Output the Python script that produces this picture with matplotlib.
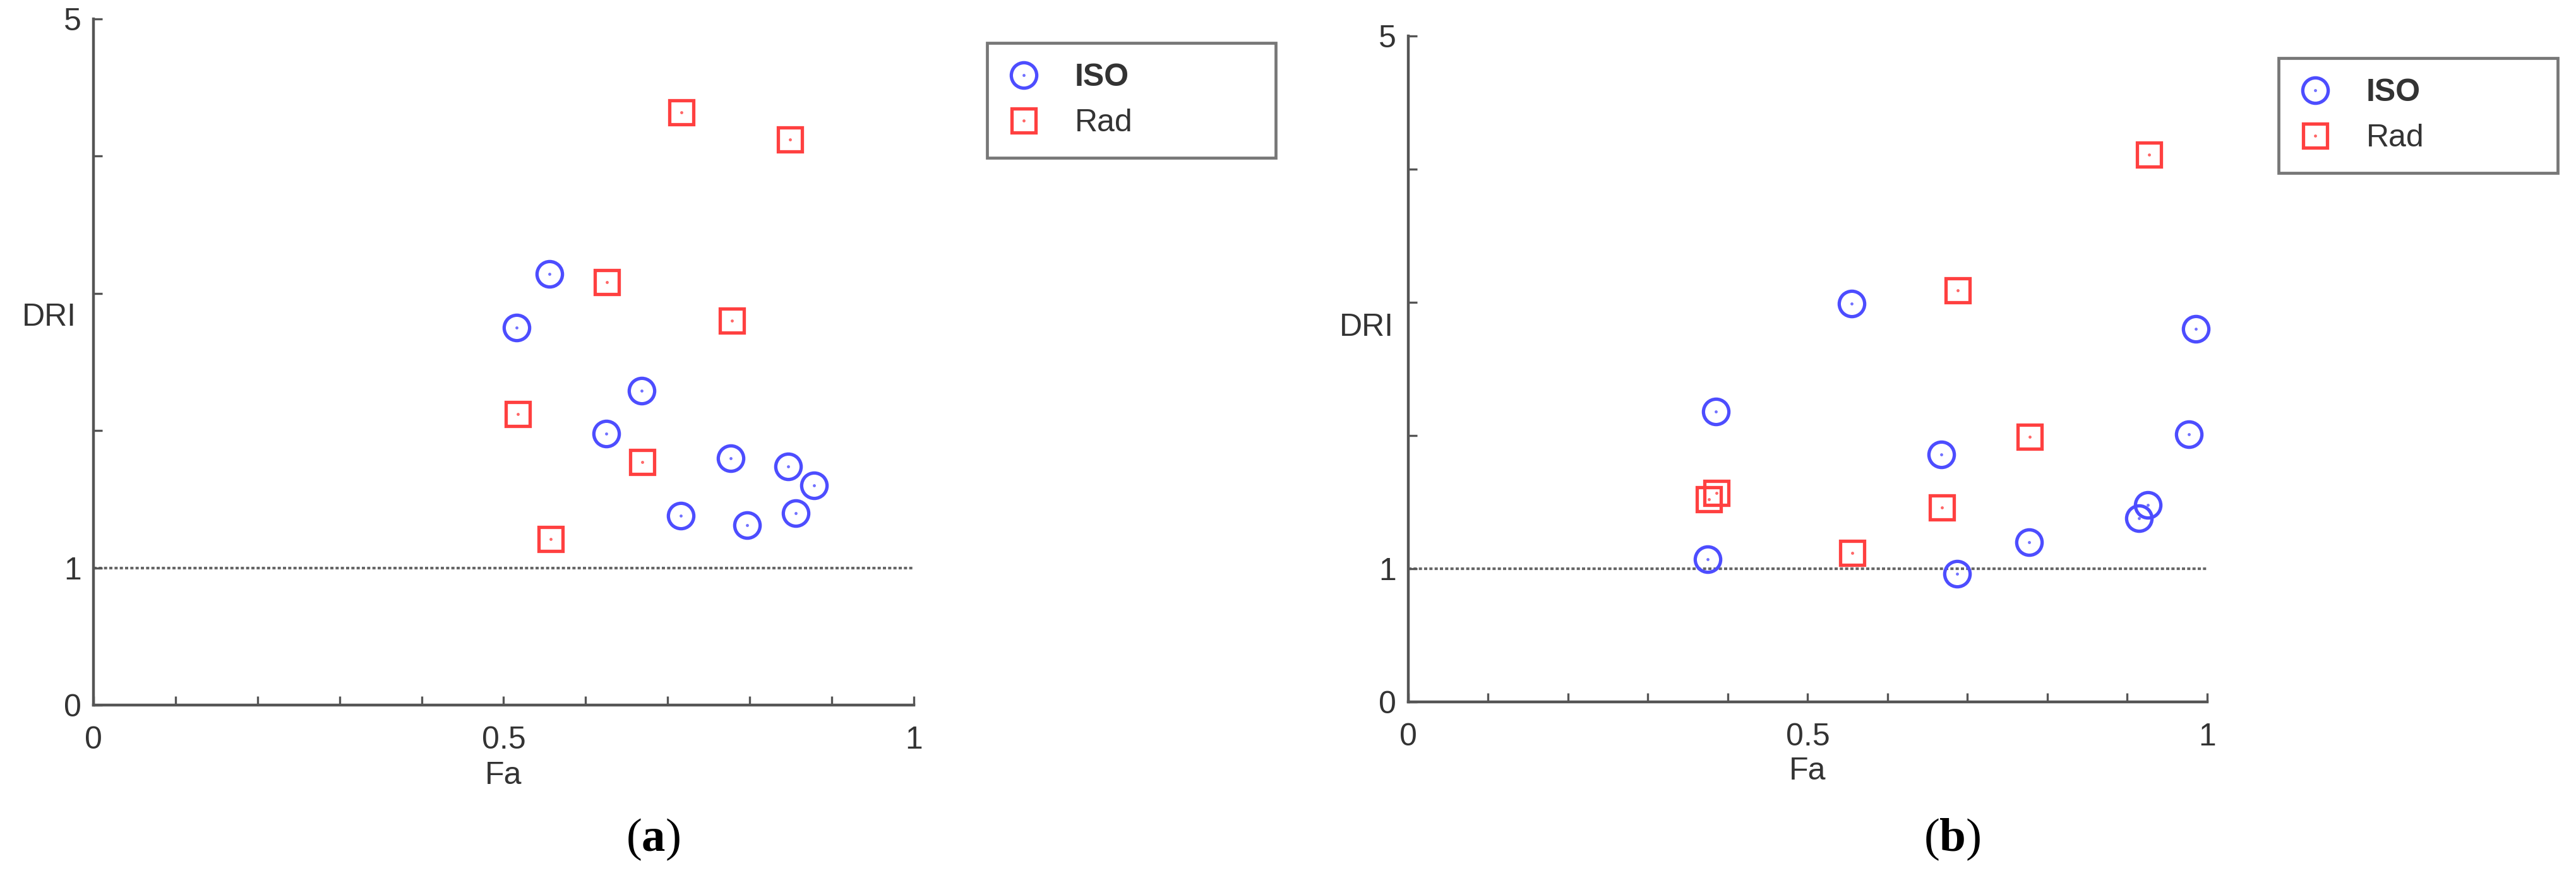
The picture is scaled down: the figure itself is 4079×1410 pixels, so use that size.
import matplotlib.pyplot as plt
from matplotlib.legend_handler import HandlerTuple
import numpy as np

plt.rcParams['font.family'] = ['Liberation Sans', 'DejaVu Sans']
plt.rcParams['mathtext.fontset'] = 'custom'
plt.rcParams['mathtext.rm'] = 'Liberation Serif'
plt.rcParams['mathtext.bf'] = 'Liberation Serif:bold'

# panel (a)
a_iso_fa = [0.556, 0.516, 0.668, 0.625, 0.777, 0.847, 0.878, 0.716, 0.797, 0.856]
a_iso_dri = [3.14, 2.75, 2.29, 1.98, 1.80, 1.74, 1.60, 1.38, 1.31, 1.40]
a_rad_fa = [0.717, 0.849, 0.626, 0.778, 0.517, 0.669, 0.557]
a_rad_dri = [4.32, 4.12, 3.08, 2.80, 2.12, 1.77, 1.21]

# panel (b)
b_iso_fa = [0.555, 0.986, 0.385, 0.667, 0.977, 0.926, 0.915, 0.777, 0.375, 0.687]
b_iso_dri = [2.99, 2.80, 2.18, 1.86, 2.01, 1.48, 1.38, 1.20, 1.07, 0.96]
b_rad_fa = [0.927, 0.688, 0.778, 0.386, 0.376, 0.668, 0.556]
b_rad_dri = [4.11, 3.09, 1.99, 1.57, 1.52, 1.46, 1.12]

series_names = ['ISO', 'Rad']
x_ticks = np.round(np.arange(0, 1.01, 0.1), 1)
x_ticklabels = ['0', '', '', '', '', '0.5', '', '', '', '', '1']
y_ticks = [0, 1, 2, 3, 4, 5]
y_ticklabels = ['0', '1', '', '', '', '5']

BLUE = '#4d4dff'
RED = '#ff4040'
AXC = '#555555'
TXT = '#333333'

W, H = 4080, 1410
fig = plt.figure(figsize=(W / 100, H / 100), dpi=100)


def px(l, t, r, b):
    return [l / W, 1 - b / H, (r - l) / W, (b - t) / H]


def panel(rect, iso_x, iso_y, rad_x, rad_y, leg_box, label_y, caption, cap_xy):
    ax = fig.add_axes(px(*rect))
    ax.set_xlim(0, 1)
    ax.set_ylim(0, 5)
    for s in ['top', 'right']:
        ax.spines[s].set_visible(False)
    for s in ['left', 'bottom']:
        ax.spines[s].set_color(AXC)
        ax.spines[s].set_linewidth(3.2)

    ax.axhline(1, color='#666666', lw=3, ls=(0, (1.2, 0.8)), zorder=1)

    l1, = ax.plot(iso_x, iso_y, 'o', ms=29, mfc='none', mec=BLUE, mew=3.8, clip_on=False)
    d1, = ax.plot(iso_x, iso_y, '.', ms=5, color=BLUE, alpha=0.7, clip_on=False)
    l2, = ax.plot(rad_x, rad_y, 's', ms=27, mfc='none', mec=RED, mew=3.8, clip_on=False)
    d2, = ax.plot(rad_x, rad_y, '.', ms=5, color=RED, alpha=0.7, clip_on=False)

    ax.set_xticks(x_ticks)
    ax.set_xticklabels(x_ticklabels)
    ax.set_yticks(y_ticks)
    ax.set_yticklabels(y_ticklabels)
    ax.tick_params(direction='in', length=10, width=2.4, color=AXC,
                   labelsize=36, labelcolor=TXT)
    ax.tick_params(axis='x', pad=24)
    ax.tick_params(axis='y', pad=14)

    ax.set_xlabel('Fa', fontsize=36, color=TXT, va='top')
    ax.xaxis.set_label_coords(0.5, -0.082)
    ax.set_ylabel('DRI', fontsize=36, color=TXT, rotation=0, ha='right', va='center')
    ax.yaxis.set_label_coords(label_y[0], label_y[1])

    lx0, ly0, lx1, ly1 = leg_box
    leg = ax.legend([(l1, d1), (l2, d2)], series_names,
                    handler_map={tuple: HandlerTuple(ndivide=1)},
                    loc='upper left', mode='expand',
                    bbox_to_anchor=(lx0 / W, 1 - ly1 / H, (lx1 - lx0) / W, (ly1 - ly0) / H),
                    bbox_transform=fig.transFigure, borderaxespad=0,
                    fontsize=36, fancybox=False, borderpad=0.64, labelspacing=0.52,
                    handlelength=1.04, handletextpad=1.1)
    leg.get_frame().set_edgecolor(AXC)
    leg.get_frame().set_linewidth(3.4)
    for t in leg.get_texts():
        t.set_color(TXT)
    leg.get_texts()[0].set_fontweight('bold')

    fig.text(cap_xy[0] / W, 1 - cap_xy[1] / H, '(' + r'$\mathbf{' + caption + '}$' + ')',
             family='Liberation Serif', fontsize=54, ha='center', va='center', color='black')
    return ax


panel((148, 30, 1447, 1117), a_iso_fa, a_iso_dri, a_rad_fa, a_rad_dri,
      (1563, 68, 2020, 252), (-0.021, 0.565), 'a', (1034, 1330))
panel((2230, 57, 3495, 1112), b_iso_fa, b_iso_dri, b_rad_fa, b_rad_dri,
      (3608, 92, 4050, 271), (-0.018, 0.562), 'b', (3091, 1330))

fig.savefig('out.png', dpi=100)
